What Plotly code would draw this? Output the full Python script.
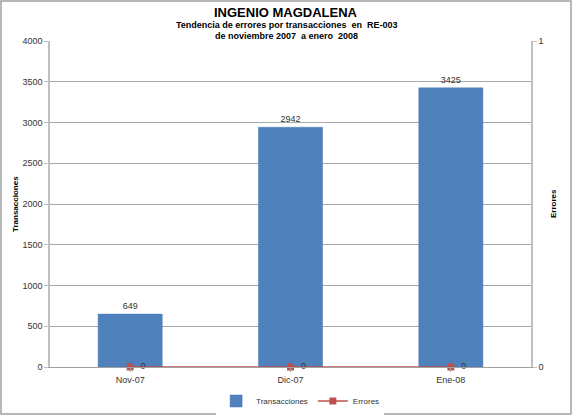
import plotly.graph_objects as go

meses = ["Nov-07", "Dic-07", "Ene-08"]
transacciones = [649, 2942, 3425]
errores = [0, 0, 0]

W, H = 572, 415
ml, mr, mt, mb = 50, 41, 41, 48
pw, ph = W - ml - mr, H - mt - mb

fig = go.Figure()

fig.add_bar(x=meses, y=transacciones, name="Transacciones", width=0.4,
            marker=dict(color="#4F81BD", line=dict(color="#4A7AB3", width=0.5)),
            text=transacciones, textposition="outside",
            textfont=dict(size=9, color="#333333"), cliponaxis=False)

fig.add_scatter(x=meses, y=errores, name="Errores", yaxis="y2",
                mode="lines+markers+text", text=["  %d" % e for e in errores],
                textposition="middle right",
                textfont=dict(size=9, color="#333333"),
                line=dict(color="#C0504D", width=1.5),
                marker=dict(symbol="square", size=7, color="#C0504D"),
                cliponaxis=False)

# marco exterior
fig.add_shape(type="rect", xref="paper", yref="paper",
              x0=-(ml - 1) / pw, x1=1 + (mr - 1) / pw,
              y0=-(mb - 1) / ph, y1=1 + (mt - 1) / ph,
              line=dict(color="#A0A0A0", width=1.5), layer="below")


def px_x(v):
    return (v - ml) / pw


def px_y(v):
    return 1 - (v - mt) / ph


titulos = [
    ("<b>INGENIO MAGDALENA</b>", 12, 13),
    ("<b>Tendencia de errores por transacciones  en  RE-003</b>", 25, 9),
    ("<b>de noviembre 2007  a enero  2008</b>", 36, 9),
]
for txt, yy, sz in titulos:
    fig.add_annotation(text=txt, xref="paper", yref="paper", x=px_x(286), y=px_y(yy),
                       xanchor="center", yanchor="middle", showarrow=False,
                       font=dict(family="Liberation Sans", size=sz, color="black"))

fig.add_annotation(text="<b>Transacciones</b>", xref="paper", yref="paper",
                   x=px_x(15), y=px_y(204), textangle=-90, showarrow=False,
                   xanchor="center", yanchor="middle",
                   font=dict(size=8, color="black"))
fig.add_annotation(text="<b>Errores</b>", xref="paper", yref="paper",
                   x=px_x(553), y=px_y(204), textangle=-90, showarrow=False,
                   xanchor="center", yanchor="middle",
                   font=dict(size=8, color="black"))

fig.update_layout(
    width=W, height=H,
    margin=dict(l=ml, r=mr, t=mt, b=mb, autoexpand=False),
    paper_bgcolor="white", plot_bgcolor="white",
    font=dict(family="Liberation Sans", size=9, color="#333333"),
    xaxis=dict(showgrid=False, showline=True, linecolor="#A0A0A0",
               ticks="outside", ticklen=4, tickcolor="#A0A0A0",
               tickfont=dict(size=9), automargin=False),
    yaxis=dict(range=[0, 4000], dtick=500, showgrid=True, gridcolor="#A8A8A8",
               showline=True, linecolor="#C0C0C0", linewidth=1.5, ticks="outside", ticklen=4,
               tickcolor="#C0C0C0", zeroline=False, tickfont=dict(size=9), automargin=False),
    yaxis2=dict(range=[0, 1], dtick=1, overlaying="y", side="right", showgrid=False,
                showline=True, linecolor="#C0C0C0", linewidth=1.5, ticks="outside", ticklen=4,
                tickcolor="#C0C0C0", zeroline=False, tickfont=dict(size=9), automargin=False),
    legend=dict(orientation="h", x=0.52, xanchor="center", y=px_y(401), yanchor="middle",
                font=dict(size=8), itemwidth=30, tracegroupgap=0),
    showlegend=True,
)

fig.write_html("out.html", config={"displayModeBar": False},
               post_script="document.body.style.margin='0';")
